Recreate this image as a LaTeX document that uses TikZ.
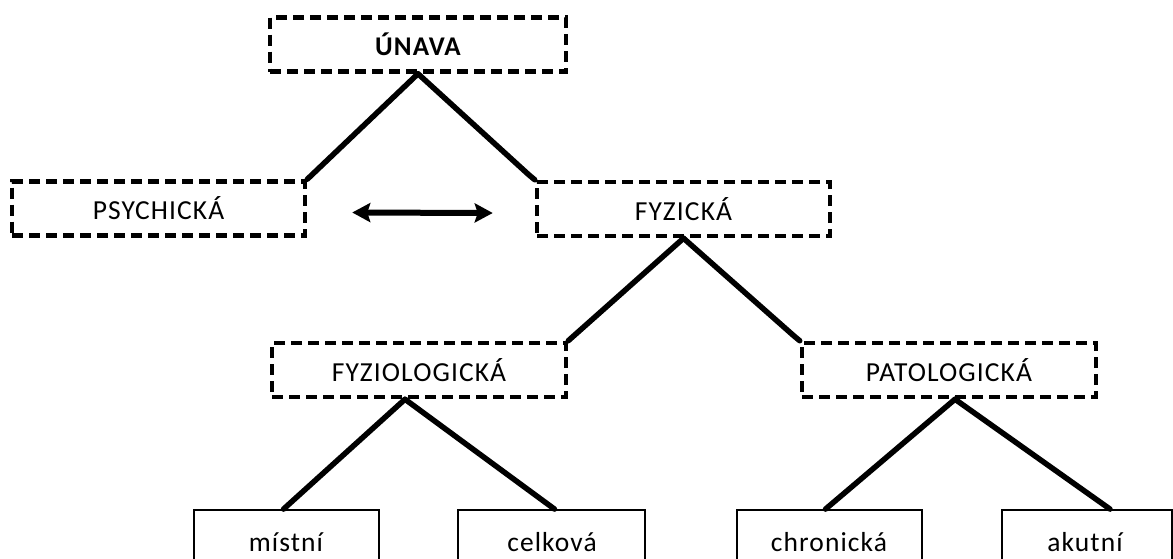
\documentclass[tikz,border=0pt]{standalone}
\usepackage{fontspec}
\newfontfamily\lab[LetterSpace=4]{Carlito}
\usetikzlibrary{arrows.meta}
\tikzset{
  dbox/.style={draw=black, line width=4.5pt, dash pattern=on 11pt off 6pt, minimum width=#1, minimum height=54pt, inner sep=0pt, font=\lab\fontsize{27.5}{31}\selectfont},
  lbox/.style={draw=black, line width=1.8pt, minimum width=#1, minimum height=80pt, inner sep=0pt},
  btxt/.style={font=\lab\fontsize{27.5}{31}\selectfont, inner sep=0pt},
  link/.style={line width=5.5pt, line cap=round},
}
\begin{document}
\begin{tikzpicture}[x=1pt,y=-1pt]
\useasboundingbox (0,0) rectangle (1173,558);
\clip (0,0) rectangle (1173,558);
\fill[white] (0,0) rectangle (1173,558);
% dashed boxes
\node[dbox=296pt, font=\lab\bfseries\fontsize{27}{31}\selectfont] (unava) at (418,44.5) {ÚNAVA};
\node[dbox=293pt] (psy) at (158.5,208.5) {PSYCHICKÁ};
\node[dbox=293pt] (fyz) at (683.5,209) {FYZICKÁ};
\node[dbox=294pt] (fyzio) at (419,370) {FYZIOLOGICKÁ};
\node[dbox=294pt] (pat) at (949,370) {PATOLOGICKÁ};
% bottom boxes (cut by the page edge)
\node[lbox=185pt] (mist) at (286.5,550) {};
\node[lbox=187pt] (celk) at (551.5,550) {};
\node[lbox=185pt] (chron) at (829.5,550) {};
\node[lbox=170pt] (akut) at (1087,550) {};
\node[btxt] at (286,542) {místní};
\node[btxt] at (552,542) {celková};
\node[btxt] at (829,542) {chronická};
\node[btxt] at (1085,542) {akutní};
% connectors
\draw[link] (unava.south) -- (psy.north east);
\draw[link] (unava.south) -- ([shift={(-6,-5)}]fyz.north west) -- (fyz.north west);
\draw[link] (fyz.south) -- (fyzio.north east);
\draw[link] (fyz.south) -- ([shift={(-6,-5)}]pat.north west) -- (pat.north west);
\draw[link] ([xshift=-14pt]fyzio.south) -- ([xshift=-3pt]mist.north);
\draw[link] ([xshift=-14pt]fyzio.south) -- ([xshift=3pt]celk.north);
\draw[link] ([xshift=6pt]pat.south) -- ([xshift=-4pt]chron.north);
\draw[link] ([xshift=6pt]pat.south) -- ([xshift=23pt]akut.north);
% double arrow between PSYCHICKÁ and FYZICKÁ
\coordinate (al) at ([xshift=45pt,yshift=-4pt]psy.east);
\coordinate (ar) at ([xshift=-42pt,yshift=-4pt]fyz.west);
\draw[line width=6pt, {Stealth[length=18pt,width=19pt,inset=3pt]}-{Stealth[length=18pt,width=19pt,inset=3pt]}] (al) -- (ar);
\end{tikzpicture}
\end{document}
